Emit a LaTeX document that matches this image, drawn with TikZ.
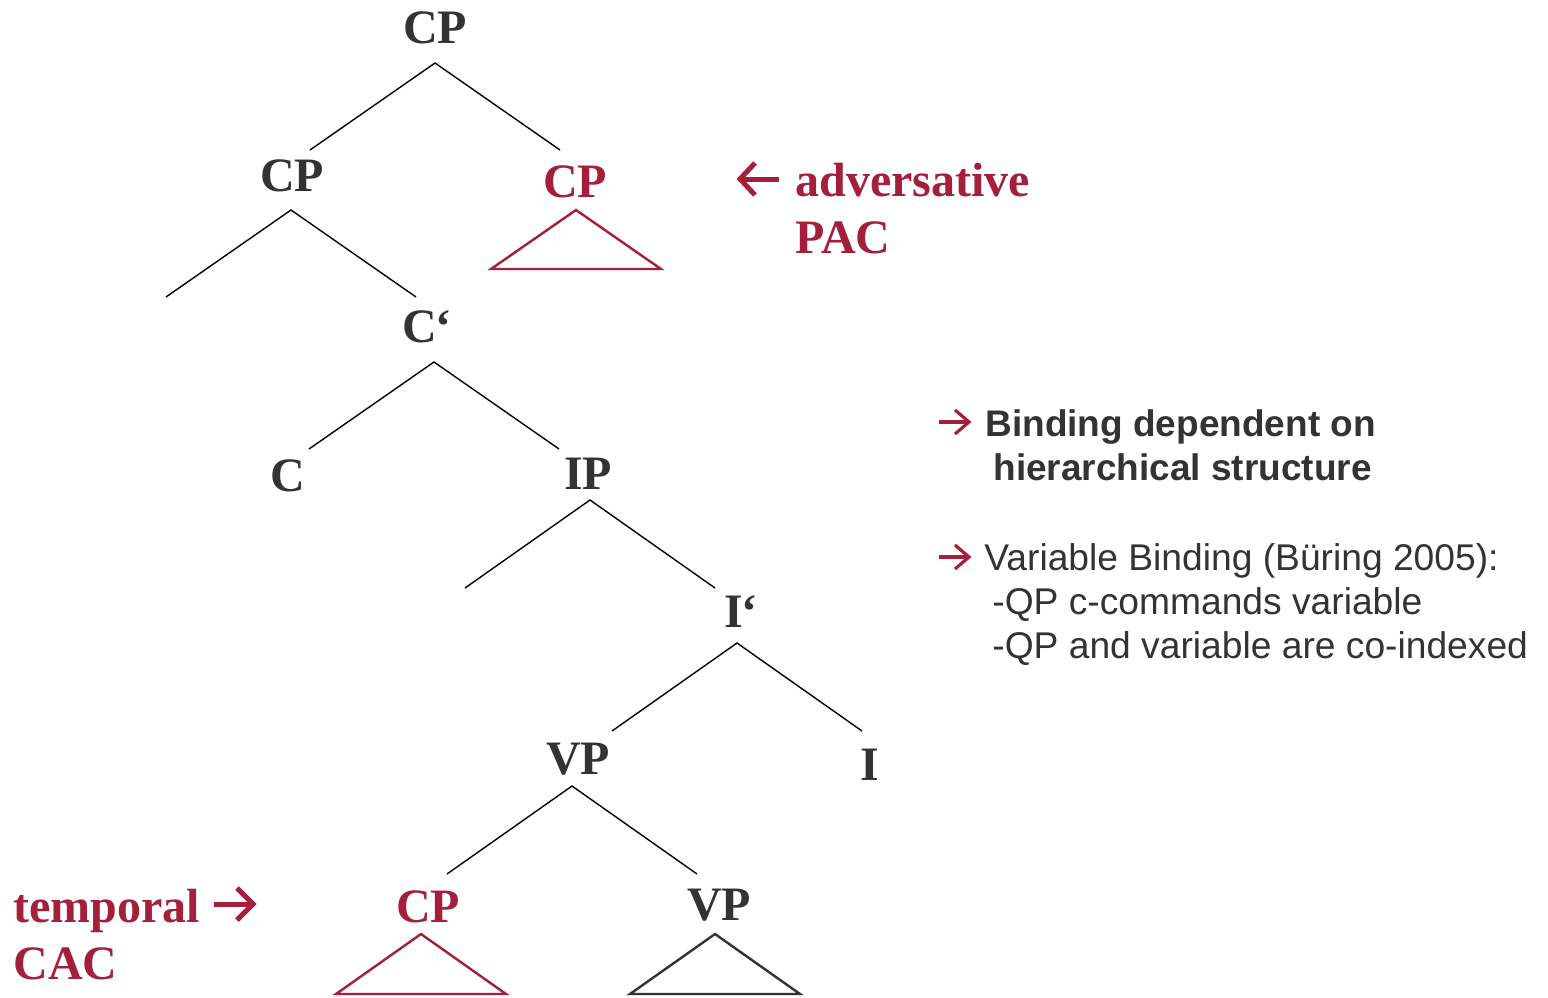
\documentclass[tikz,border=0pt]{standalone}
\usepackage{fontspec}
\setmainfont{Liberation Serif}
\setsansfont{Liberation Sans}
\definecolor{maroon}{HTML}{A31F3B}
\definecolor{ink}{HTML}{333333}
\begin{document}
\begin{tikzpicture}[x=0.5pt,y=-0.5pt,
  lbl/.style={font=\fontsize{24}{28}\selectfont\bfseries, text=ink, inner sep=0pt, anchor=base},
  hot/.style={lbl, text=maroon},
  branch/.style={draw=black, line width=0.7pt},
  tri/.style={draw=ink, line width=1.2pt, line join=miter},
  note/.style={font=\sffamily\fontsize{18.6}{22}\selectfont, text=ink, inner sep=0pt, anchor=base west},
  boldnote/.style={note, font=\sffamily\bfseries\fontsize{18.5}{22}\selectfont},
  fatarrow/.style={draw=maroon, line width=2.5pt, line join=miter, line cap=butt},
  thinarrow/.style={draw=maroon, line width=1.6pt, line join=miter, line cap=butt}
]
\useasboundingbox (0,0) rectangle (1548,997);

% tree labels
\node[lbl] (cp0) at (435,43) {CP};
\node[lbl] (cp1) at (292,191) {CP};
\node[hot] (cp2) at (575,197) {CP};
\node[lbl] (cbar) at (427,342) {C\kern-1pt‘};
\node[lbl] (c) at (288,491) {C};
\node[lbl] (ip) at (588,489) {IP};
\node[lbl] (ibar) at (741,627) {I\kern-1pt‘};
\node[lbl] (vp1) at (578,774) {VP};
\node[lbl] (i) at (870,780) {I};
\node[hot] (cp3) at (428,922) {CP};
\node[lbl] (vp2) at (719,920) {VP};

% branch end points
\coordinate (a0) at (435,63);
\coordinate (a0l) at (310,150);
\coordinate (a0r) at (560,150);
\coordinate (a1) at (291,210);
\coordinate (a1l) at (166,297);
\coordinate (a1r) at (416,297);
\coordinate (a2) at (434,362);
\coordinate (a2l) at (309,449);
\coordinate (a2r) at (559,449);
\coordinate (a3) at (590,500);
\coordinate (a3l) at (465,588);
\coordinate (a3r) at (715,588);
\coordinate (a4) at (737,643);
\coordinate (a4l) at (612,731);
\coordinate (a4r) at (862,731);
\coordinate (a5) at (572,786);
\coordinate (a5l) at (447,874);
\coordinate (a5r) at (697,874);

\draw[branch] (a0l) -- (a0) -- (a0r);
\draw[branch] (a1l) -- (a1) -- (a1r);
\draw[branch] (a2l) -- (a2) -- (a2r);
\draw[branch] (a3l) -- (a3) -- (a3r);
\draw[branch] (a4l) -- (a4) -- (a4r);
\draw[branch] (a5l) -- (a5) -- (a5r);

% roofs
\draw[tri, draw=maroon] (576,210) -- (661,269) -- (491,269) -- cycle;
\draw[tri, draw=maroon] (421,934) -- (506,994) -- (336,994) -- cycle;
\draw[tri] (715,934) -- (800,994) -- (630,994) -- cycle;

% clause labels
\node[hot, anchor=base west] (adv) at (795,196) {adversative};
\node[hot, anchor=base west] (pac) at (795,253) {PAC};
\node[hot, anchor=base west] (temp) at (13,922) {temporal};
\node[hot, anchor=base west] (cac) at (13,979) {CAC};

% arrows pointing at the clauses
\coordinate (advtip) at (740,179);
\coordinate (advtail) at (779,179);
\draw[fatarrow] (advtail) -- (advtip);
\draw[fatarrow] (755,163) -- (advtip) -- (755,195);
\coordinate (temptail) at (214,904);
\coordinate (temptip) at (253,904);
\draw[fatarrow] (temptail) -- (temptip);
\draw[fatarrow] (237,888) -- (temptip) -- (237,920);

% notes
\coordinate (n1tail) at (939,422);
\coordinate (n1tip) at (969,422);
\draw[thinarrow] (n1tail) -- (n1tip);
\draw[thinarrow] (955,410) -- (n1tip) -- (955,434);
\node[boldnote] (n1) at (985,436) {Binding dependent on};
\node[boldnote] (n2) at (993,480) {hierarchical structure};
\coordinate (n3tail) at (939,557);
\coordinate (n3tip) at (969,557);
\draw[thinarrow] (n3tail) -- (n3tip);
\draw[thinarrow] (955,545) -- (n3tip) -- (955,569);
\node[note] (n3) at (984,570) {Variable Binding (Büring 2005):};
\node[note] (n4) at (992,614) {-QP c-commands variable};
\node[note] (n5) at (992,658) {-QP and variable are co-indexed};
\end{tikzpicture}
\end{document}
